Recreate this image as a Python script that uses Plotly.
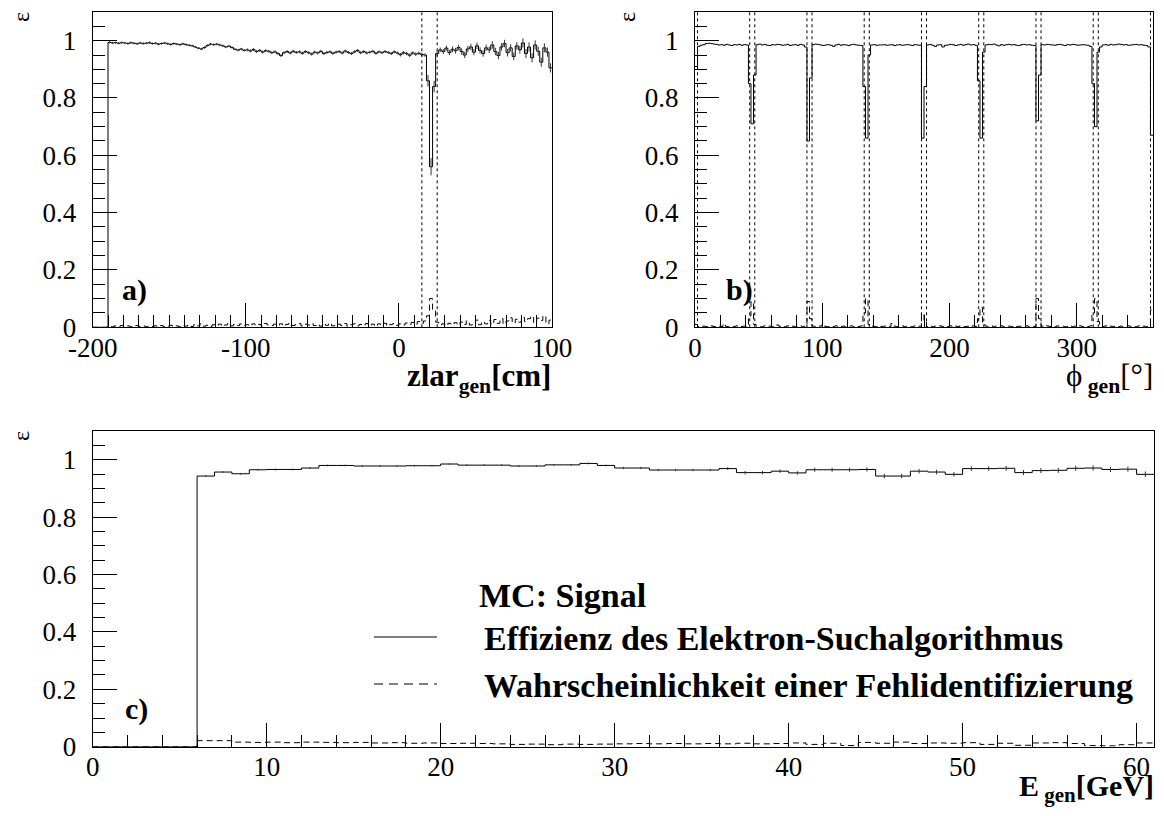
import numpy as np
import plotly.graph_objects as go

# ---------------- data ----------------
# panel a: efficiency vs zlar_gen (2 cm bins, -200..100)
zlar_lo, zlar_hi, zlar_w = -200, 100, 2
eff_a = [
    0, 0, 0, 0, 0, 0.994, 0.992, 0.993, 0.991, 0.993,
    0.992, 0.990, 0.993, 0.991, 0.989, 0.992, 0.990, 0.991, 0.993, 0.990,
    0.991, 0.988, 0.990, 0.992, 0.989, 0.987, 0.990, 0.988, 0.986, 0.989,
    0.986, 0.984, 0.982, 0.978, 0.974, 0.971, 0.976, 0.983, 0.988, 0.986,
    0.988, 0.985, 0.982, 0.978, 0.981, 0.976, 0.970, 0.967, 0.971, 0.966,
    0.968, 0.964, 0.969, 0.962, 0.966, 0.960, 0.965, 0.963, 0.958, 0.961,
    0.955, 0.948, 0.958, 0.962, 0.957, 0.963, 0.959, 0.961, 0.956, 0.962,
    0.958, 0.953, 0.960, 0.957, 0.963, 0.955, 0.959, 0.961, 0.956, 0.960,
    0.962, 0.957, 0.964, 0.959, 0.955, 0.961, 0.966, 0.958, 0.962, 0.957,
    0.960, 0.963, 0.956, 0.961, 0.958, 0.962, 0.959, 0.955, 0.961, 0.957,
    0.951, 0.958, 0.955, 0.949, 0.957, 0.953, 0.956, 0.952, 0.950, 0.860,
    0.560, 0.840, 0.955, 0.968, 0.962, 0.974, 0.958, 0.970, 0.965, 0.976,
    0.962, 0.950, 0.971, 0.978, 0.960, 0.982, 0.966, 0.955, 0.975, 0.968,
    0.985, 0.962, 0.948, 0.978, 0.990, 0.958, 0.975, 0.945, 0.982, 0.968,
    0.992, 0.955, 0.978, 0.940, 0.985, 0.963, 0.925, 0.975, 0.960, 0.905,
]
err_a = [
    0, 0, 0, 0, 0, 0.004, 0.004, 0.004, 0.004, 0.004,
    0.004, 0.004, 0.004, 0.004, 0.004, 0.004, 0.004, 0.004, 0.004, 0.004,
    0.004, 0.004, 0.004, 0.004, 0.004, 0.004, 0.004, 0.004, 0.004, 0.004,
    0.004, 0.004, 0.004, 0.004, 0.004, 0.004, 0.004, 0.004, 0.004, 0.004,
    0.004, 0.004, 0.004, 0.004, 0.004, 0.004, 0.004, 0.004, 0.004, 0.004,
    0.005, 0.005, 0.005, 0.005, 0.005, 0.005, 0.005, 0.005, 0.005, 0.005,
    0.005, 0.005, 0.005, 0.005, 0.005, 0.005, 0.005, 0.005, 0.005, 0.005,
    0.005, 0.005, 0.005, 0.005, 0.005, 0.005, 0.005, 0.005, 0.005, 0.005,
    0.005, 0.005, 0.005, 0.005, 0.005, 0.005, 0.005, 0.005, 0.005, 0.005,
    0.005, 0.005, 0.005, 0.005, 0.005, 0.005, 0.005, 0.005, 0.005, 0.005,
    0.006, 0.006, 0.006, 0.006, 0.006, 0.006, 0.006, 0.006, 0.006, 0.020,
    0.030, 0.020, 0.008, 0.008, 0.009, 0.009, 0.009, 0.010, 0.010, 0.010,
    0.011, 0.011, 0.011, 0.011, 0.011, 0.011, 0.011, 0.011, 0.011, 0.011,
    0.013, 0.013, 0.013, 0.013, 0.013, 0.013, 0.013, 0.013, 0.013, 0.013,
    0.016, 0.016, 0.016, 0.016, 0.016, 0.016, 0.016, 0.016, 0.016, 0.016,
]
mis_a = [
    0, 0, 0, 0, 0, 0.004, 0.002, 0.005, 0.003, 0.006,
    0.003, 0.005, 0.002, 0.004, 0.006, 0.003, 0.005, 0.002, 0.004, 0.003,
    0.005, 0.003, 0.006, 0.002, 0.004, 0.007, 0.003, 0.005, 0.002, 0.006,
    0.004, 0.008, 0.003, 0.010, 0.005, 0.012, 0.004, 0.007, 0.003, 0.009,
    0.006, 0.011, 0.004, 0.008, 0.013, 0.005, 0.010, 0.006, 0.012, 0.007,
    0.009, 0.005, 0.012, 0.007, 0.010, 0.004, 0.013, 0.008, 0.006, 0.011,
    0.007, 0.012, 0.005, 0.010, 0.014, 0.006, 0.009, 0.013, 0.005, 0.011,
    0.008, 0.013, 0.006, 0.010, 0.004, 0.012, 0.007, 0.014, 0.005, 0.009,
    0.011, 0.006, 0.013, 0.004, 0.009, 0.012, 0.005, 0.010, 0.007, 0.013,
    0.006, 0.011, 0.004, 0.012, 0.008, 0.014, 0.005, 0.010, 0.013, 0.007,
    0.012, 0.008, 0.015, 0.010, 0.017, 0.011, 0.020, 0.014, 0.022, 0.040,
    0.100, 0.060, 0.018, 0.008, 0.012, 0.006, 0.014, 0.009, 0.016, 0.007,
    0.018, 0.010, 0.022, 0.008, 0.015, 0.025, 0.009, 0.019, 0.012, 0.024,
    0.010, 0.027, 0.014, 0.030, 0.011, 0.022, 0.033, 0.015, 0.028, 0.018,
    0.035, 0.020, 0.030, 0.038, 0.016, 0.032, 0.024, 0.040, 0.012, 0.025,
]
zlar_cuts = [15, 25]
zlar_tickvals = [-200, -100, 0, 100]
zlar_ticktext = ["-200", "-100", "0", "100"]

# panel b: efficiency vs phi_gen (2 degree bins, 0..360)
phi_lo, phi_hi, phi_w = 0, 360, 2
eff_b = [
    0.910, 0.980, 0.984, 0.986, 0.990, 0.991, 0.990, 0.988, 0.987, 0.985, 0.986, 0.984, 0.987, 0.985, 0.983, 0.986, 0.985, 0.987, 0.984, 0.986,
    0.985, 0.850, 0.710, 0.880, 0.986, 0.988, 0.985, 0.987, 0.984, 0.983, 0.986, 0.985, 0.987, 0.986, 0.984, 0.985, 0.987, 0.983, 0.985, 0.986,
    0.984, 0.987, 0.985, 0.978, 0.650, 0.870, 0.986, 0.988, 0.987, 0.985, 0.983, 0.985, 0.986, 0.984, 0.980, 0.985, 0.987, 0.984, 0.986, 0.985,
    0.983, 0.986, 0.987, 0.985, 0.984, 0.983, 0.840, 0.660, 0.950, 0.985, 0.986, 0.984, 0.985, 0.985, 0.986, 0.984, 0.985, 0.986, 0.983, 0.985,
    0.986, 0.984, 0.985, 0.986, 0.985, 0.983, 0.986, 0.985, 0.984, 0.660, 0.840, 0.985, 0.987, 0.984, 0.980, 0.985, 0.986, 0.978, 0.984, 0.985,
    0.987, 0.986, 0.983, 0.985, 0.987, 0.984, 0.986, 0.988, 0.985, 0.986, 0.984, 0.860, 0.660, 0.960, 0.985, 0.987, 0.986, 0.988, 0.985, 0.982,
    0.986, 0.984, 0.986, 0.987, 0.985, 0.986, 0.984, 0.983, 0.986, 0.987, 0.985, 0.986, 0.984, 0.983, 0.720, 0.880, 0.986, 0.985, 0.987, 0.986,
    0.985, 0.984, 0.986, 0.987, 0.985, 0.983, 0.986, 0.985, 0.987, 0.986, 0.984, 0.985, 0.986, 0.985, 0.984, 0.980, 0.850, 0.700, 0.960, 0.978,
    0.985, 0.986, 0.984, 0.987, 0.985, 0.986, 0.988, 0.987, 0.985, 0.986, 0.984, 0.985, 0.986, 0.987, 0.985, 0.986, 0.984, 0.983, 0.978, 0.670,
]
mis_b = [
    0.010, 0.003, 0.002, 0.004, 0.003, 0.002, 0.005, 0.003, 0.002, 0.004, 0.003, 0.012, 0.003, 0.002, 0.004, 0.003, 0.005, 0.002, 0.003, 0.004,
    0.003, 0.040, 0.090, 0.010, 0.004, 0.003, 0.002, 0.005, 0.003, 0.004, 0.002, 0.003, 0.008, 0.003, 0.004, 0.002, 0.005, 0.003, 0.004, 0.002,
    0.003, 0.005, 0.002, 0.004, 0.090, 0.030, 0.004, 0.003, 0.002, 0.005, 0.012, 0.003, 0.002, 0.004, 0.003, 0.005, 0.002, 0.003, 0.004, 0.002,
    0.003, 0.005, 0.002, 0.004, 0.003, 0.005, 0.050, 0.100, 0.010, 0.004, 0.003, 0.002, 0.005, 0.003, 0.004, 0.002, 0.003, 0.013, 0.004, 0.002,
    0.003, 0.005, 0.002, 0.004, 0.003, 0.002, 0.005, 0.003, 0.004, 0.050, 0.020, 0.003, 0.005, 0.002, 0.004, 0.003, 0.005, 0.002, 0.004, 0.003,
    0.005, 0.002, 0.004, 0.003, 0.005, 0.002, 0.003, 0.004, 0.002, 0.005, 0.003, 0.030, 0.070, 0.010, 0.004, 0.003, 0.005, 0.002, 0.004, 0.003,
    0.005, 0.002, 0.003, 0.004, 0.002, 0.005, 0.003, 0.004, 0.002, 0.003, 0.005, 0.002, 0.004, 0.003, 0.100, 0.030, 0.004, 0.002, 0.005, 0.003,
    0.004, 0.002, 0.005, 0.003, 0.004, 0.002, 0.003, 0.005, 0.002, 0.004, 0.003, 0.005, 0.002, 0.004, 0.003, 0.005, 0.050, 0.100, 0.020, 0.004,
    0.003, 0.005, 0.002, 0.004, 0.003, 0.005, 0.002, 0.004, 0.003, 0.002, 0.005, 0.003, 0.004, 0.002, 0.005, 0.003, 0.004, 0.002, 0.005, 0.060,
]
phi_cuts = [2, 43, 47, 88, 92, 133, 137, 178, 182, 223, 227, 268, 272, 313, 317, 358]
phi_tickvals = [0, 100, 200, 300]
phi_ticktext = ["0", "100", "200", "300"]

# panel c: efficiency vs E_gen (1 GeV bins, 0..61)
e_lo, e_hi, e_w = 0, 61, 1
eff_c = [
    0, 0, 0, 0, 0, 0,
    0.943, 0.957, 0.951, 0.965, 0.966, 0.966, 0.971, 0.980, 0.980, 0.978,
    0.978, 0.978, 0.979, 0.979, 0.985, 0.981, 0.981, 0.981, 0.978, 0.978,
    0.982, 0.982, 0.987, 0.980, 0.971, 0.971, 0.964, 0.964, 0.964, 0.964,
    0.969, 0.955, 0.955, 0.960, 0.954, 0.965, 0.965, 0.965, 0.966, 0.943,
    0.943, 0.960, 0.957, 0.949, 0.969, 0.969, 0.970, 0.955, 0.962, 0.963,
    0.970, 0.971, 0.966, 0.967, 0.949,
]
err_c = [
    0, 0, 0, 0, 0, 0,
    0.003, 0.003, 0.003, 0.003, 0.003, 0.003, 0.003, 0.003, 0.003, 0.003,
    0.003, 0.003, 0.003, 0.003, 0.003, 0.003, 0.003, 0.003, 0.003, 0.003,
    0.003, 0.003, 0.003, 0.003, 0.004, 0.004, 0.004, 0.004, 0.004, 0.004,
    0.005, 0.006, 0.006, 0.006, 0.006, 0.007, 0.007, 0.007, 0.007, 0.008,
    0.008, 0.008, 0.008, 0.008, 0.008, 0.008, 0.008, 0.009, 0.009, 0.009,
    0.009, 0.009, 0.009, 0.009, 0.010,
]
mis_c = [
    0, 0, 0, 0, 0, 0,
    0.021, 0.021, 0.016, 0.015, 0.016, 0.014, 0.016, 0.015, 0.014, 0.015,
    0.013, 0.014, 0.012, 0.013, 0.011, 0.012, 0.011, 0.010, 0.008, 0.009,
    0.007, 0.009, 0.008, 0.009, 0.010, 0.011, 0.010, 0.011, 0.010, 0.011,
    0.010, 0.012, 0.010, 0.011, 0.013, 0.008, 0.012, 0.004, 0.015, 0.012,
    0.016, 0.011, 0.013, 0.012, 0.014, 0.008, 0.012, 0.005, 0.013, 0.014,
    0.011, 0.004, 0.003, 0.007, 0.013,
]
e_tickvals = [0, 10, 20, 30, 40, 50, 60]
e_ticktext = ["0", "10", "20", "30", "40", "50", "60"]

y_tickvals = [0, 0.2, 0.4, 0.6, 0.8, 1.0]
y_ticktext = ["0", "0.2", "0.4", "0.6", "0.8", "1"]
legend_header = "MC: Signal"
legend_labels = ["Effizienz des Elektron-Suchalgorithmus",
                 "Wahrscheinlichkeit einer Fehlidentifizierung"]

# ---------------- figure ----------------
W, H = 1164, 816
FONT = "Liberation Serif"
TICKFONT = dict(family=FONT, size=27, color="black")


def px(x):
    return x / W


def py(y):
    return 1 - y / H


def step_xy(lo, hi, w, vals):
    edges = np.arange(lo, hi + w / 2, w)
    xs = list(edges)
    ys = list(vals) + [vals[-1]]
    return xs, ys


def centers(lo, hi, w):
    return list(np.arange(lo, hi, w) + w / 2)


fig = go.Figure()
fig.update_layout(template="none")

panels = [
    ("x", "y", zlar_lo, zlar_hi, zlar_w, eff_a, mis_a, err_a),
    ("x2", "y2", phi_lo, phi_hi, phi_w, eff_b, mis_b, None),
    ("x3", "y3", e_lo, e_hi, e_w, eff_c, mis_c, err_c),
]
for xa, ya, lo, hi, w, eff, mis, err in panels:
    xs, ys = step_xy(lo, hi, w, eff)
    fig.add_trace(go.Scatter(x=xs, y=ys, mode="lines", line_shape="hv",
                             line=dict(color="black", width=1),
                             xaxis=xa, yaxis=ya, showlegend=False, hoverinfo="skip"))
    xs, ys = step_xy(lo, hi, w, mis)
    fig.add_trace(go.Scatter(x=xs, y=ys, mode="lines", line_shape="hv",
                             line=dict(color="black", width=1, dash="6px,4px"),
                             xaxis=xa, yaxis=ya, showlegend=False, hoverinfo="skip"))
    if err is not None:
        cx = centers(lo, hi, w)
        sel = [i for i in range(len(eff)) if eff[i] > 0]
        fig.add_trace(go.Scatter(x=[cx[i] for i in sel], y=[eff[i] for i in sel],
                                 mode="markers",
                                 marker=dict(size=1, color="rgba(0,0,0,0)"),
                                 error_y=dict(type="data", array=[err[i] for i in sel],
                                              width=0, thickness=1, color="#333"),
                                 xaxis=xa, yaxis=ya, showlegend=False, hoverinfo="skip"))

# cut lines (dotted)
for c in zlar_cuts:
    fig.add_shape(type="line", xref="x", yref="y domain", x0=c, x1=c, y0=0, y1=1,
                  line=dict(color="black", width=1, dash="3px,3px"))
for c in phi_cuts:
    fig.add_shape(type="line", xref="x2", yref="y2 domain", x0=c, x1=c, y0=0, y1=1,
                  line=dict(color="black", width=1, dash="3px,3px"))

# axes geometry (pixels)
geo = {
    "a": dict(x0=92.7, x1=552, y0=12, y1=327.3),
    "b": dict(x0=695, x1=1153, y0=12, y1=327.3),
    "c": dict(x0=92.7, x1=1154, y0=431, y1=746.7),
}


def xaxis(g, rng, tv, tt, tick0, minor_dtick):
    return dict(domain=[px(g["x0"]), px(g["x1"])], range=rng, automargin=False,
                tickvals=tv, ticktext=tt, ticks="inside", ticklen=24, tickwidth=1,
                tickcolor="black", showline=True, mirror=True, linecolor="black",
                linewidth=1, showgrid=False, zeroline=False, tickfont=TICKFONT,
                ticklabelstandoff=-4,
                minor=dict(dtick=minor_dtick, tick0=tick0, ticks="inside", ticklen=12,
                           tickwidth=1, tickcolor="black", showgrid=False))


def yaxis(g):
    return dict(domain=[py(g["y1"]), py(g["y0"])], range=[0, 1.1], automargin=False,
                tickvals=y_tickvals, ticktext=y_ticktext,
                ticks="inside", ticklen=24, tickwidth=1, tickcolor="black",
                showline=True, mirror=True, linecolor="black", linewidth=1,
                showgrid=False, zeroline=False, tickfont=TICKFONT,
                ticklabelstandoff=10,
                minor=dict(dtick=0.05, tick0=0, ticks="inside", ticklen=12,
                           tickwidth=1, tickcolor="black", showgrid=False))


fig.update_layout(
    width=W, height=H, margin=dict(l=0, r=0, t=0, b=0, pad=0),
    paper_bgcolor="white", plot_bgcolor="white", showlegend=False,
    xaxis=dict(anchor="y", **xaxis(geo["a"], [zlar_lo, zlar_hi], zlar_tickvals, zlar_ticktext, -200, 10)),
    yaxis=dict(anchor="x", **yaxis(geo["a"])),
    xaxis2=dict(anchor="y2", **xaxis(geo["b"], [phi_lo, phi_hi], phi_tickvals, phi_ticktext, 0, 20)),
    yaxis2=dict(anchor="x2", **yaxis(geo["b"])),
    xaxis3=dict(anchor="y3", **xaxis(geo["c"], [e_lo, e_hi], e_tickvals, e_ticktext, 0, 2)),
    yaxis3=dict(anchor="x3", **yaxis(geo["c"])),
)

ann = []


def text(x, y, s, size, xanchor="left", yanchor="middle", angle=0):
    ann.append(dict(x=px(x), y=py(y), xref="paper", yref="paper", text=s,
                    showarrow=False, xanchor=xanchor, yanchor=yanchor, textangle=angle,
                    font=dict(family=FONT, size=size, color="black")))


# y titles (rotated epsilon)
text(21, 17, "ε", 24, "center", "middle", -90)
text(627, 17, "ε", 24, "center", "middle", -90)
text(21, 436, "ε", 24, "center", "middle", -90)
# x titles
text(553, 378, "<b>zlar<sub>gen</sub>[cm]</b>", 31, "right")
text(1155, 378, "ϕ<b><sub> gen</sub></b>[°]", 31, "right")
text(1156, 788, "<b>E<sub> gen</sub>[GeV]</b>", 30, "right")
# panel labels
text(120, 290, "<b>a)</b>", 30)
text(724, 290, "<b>b)</b>", 30)
text(123, 709, "<b>c)</b>", 30)
# legend
text(477, 595, "<b>" + legend_header + "</b>", 34)
text(482, 638, "<b>" + legend_labels[0] + "</b>", 34)
text(482, 685, "<b>" + legend_labels[1] + "</b>", 34)
fig.update_layout(annotations=ann)
fig.add_shape(type="line", xref="paper", yref="paper", x0=px(374), x1=px(437),
              y0=py(637), y1=py(637), line=dict(color="black", width=1))
fig.add_shape(type="line", xref="paper", yref="paper", x0=px(374), x1=px(437),
              y0=py(684), y1=py(684), line=dict(color="black", width=1, dash="9px,6px"))

fig.write_html("out.html", config={"displayModeBar": False},
               post_script="document.body.style.margin='0';document.body.style.overflow='hidden';")
